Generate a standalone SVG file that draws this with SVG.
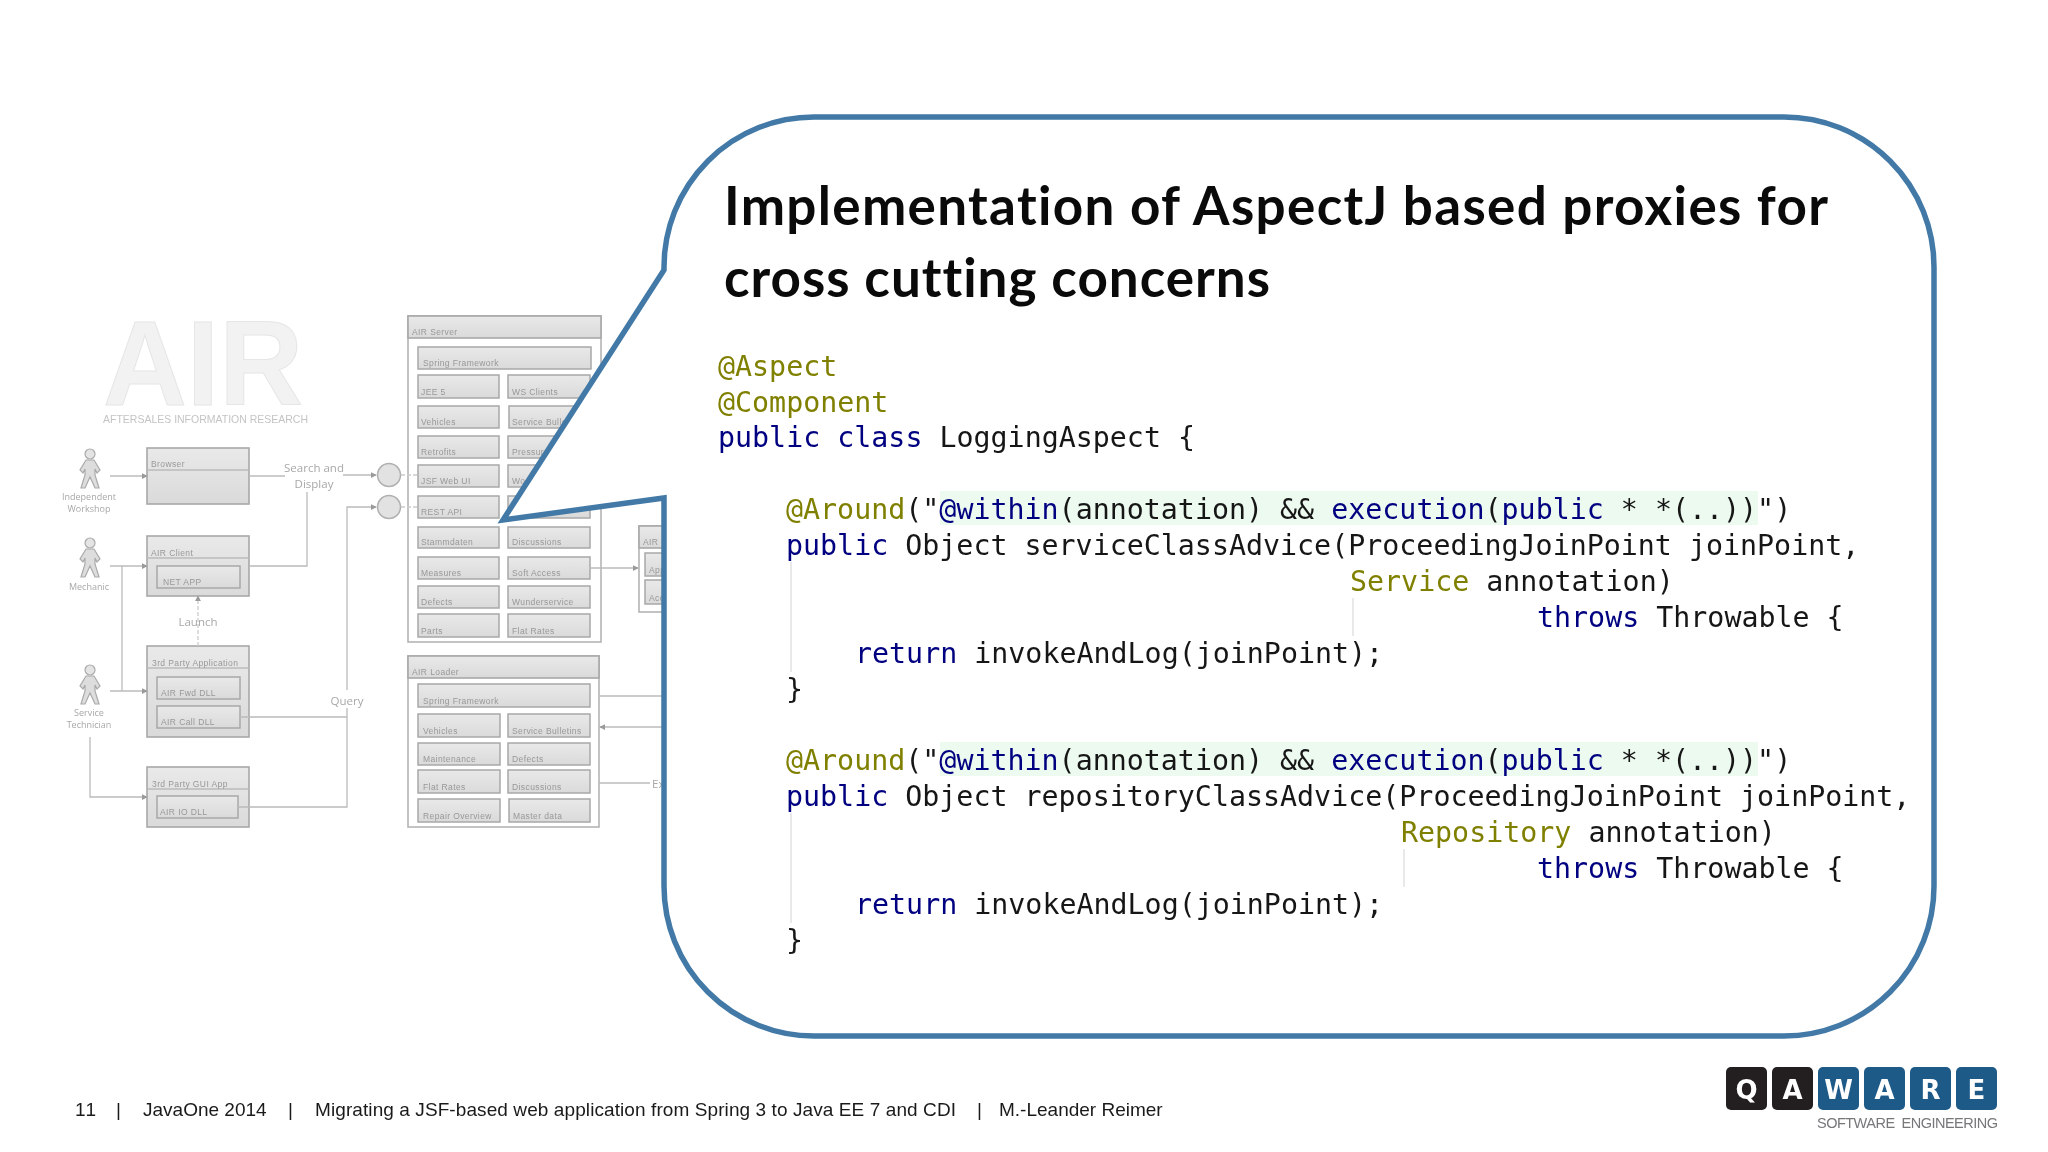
<svg xmlns="http://www.w3.org/2000/svg" width="2048" height="1152" viewBox="0 0 2048 1152">
<style>
.b{fill:url(#g);stroke:#a8a8a8;stroke-width:1.6}
.o{fill:#fff;stroke:#b4b4b4;stroke-width:1.6}
.h{fill:url(#g);stroke:#a8a8a8;stroke-width:1.6}
.c{fill:url(#g);stroke:#a8a8a8;stroke-width:1.5}
.l{font:8.5px "Liberation Sans",sans-serif;fill:#989898;letter-spacing:.4px}
.t{font:11.5px "Open Sans",sans-serif;fill:#a8a8a8;text-anchor:middle}
.a{font:9px "Open Sans",sans-serif;fill:#a8a8a8;text-anchor:middle}
.w{fill:none;stroke:#bbb;stroke-width:1.3}
.d{fill:none;stroke:#ccc;stroke-width:1.3;stroke-dasharray:4 2}
.code{font:28.3px "DejaVu Sans Mono",monospace;fill:#161616}
.k{fill:#000080}.n{fill:#808000}
.guide{stroke:#e2e2e2;stroke-width:1.5}
.hl{fill:#edfaef}
.title{font:bold 53px Lato,"Open Sans",sans-serif;fill:#0a0a0a;font-variant-ligatures:none}
.foot{font:19px "Liberation Sans",Arial,sans-serif;fill:#1a1a1a;font-kerning:none}
.tile{stroke:none}
.ltr{font:bold 26px "DejaVu Sans",sans-serif;fill:#fff;text-anchor:middle}
</style>
<defs>
<linearGradient id="g" x1="0" y1="0" x2="0" y2="1"><stop offset="0" stop-color="#e9e9e9"/><stop offset="1" stop-color="#dadada"/></linearGradient>
<filter id="soft" x="-5%" y="-5%" width="110%" height="110%"><feGaussianBlur stdDeviation="0.55"/></filter>
<marker id="ah" viewBox="0 0 8 8" refX="7" refY="4" markerWidth="6" markerHeight="6" markerUnits="userSpaceOnUse" orient="auto"><path d="M0,0L8,4L0,8Z" fill="#9a9a9a"/></marker>
<g id="person"><circle cx="0" cy="5" r="5" fill="#e4e4e4" stroke="#aaa" stroke-width="1.2"/><path d="M-4,11L4,11L10,21L7,24L5,20L5,26L9,39L5,39L0,28L-5,39L-9,39L-5,26L-5,20L-7,24L-10,21Z" fill="#ddd" stroke="#aaa" stroke-width="1.2"/></g>
</defs>
<rect width="2048" height="1152" fill="#fff"/>
<g id="background-diagram" filter="url(#soft)">
<g id="air-logo">
<text x="103" y="405" textLength="200" lengthAdjust="spacingAndGlyphs" style="font:bold 120px 'Liberation Sans',sans-serif;fill:#f2f2f2;stroke:#e6e6e6;stroke-width:1">AIR</text>
<text x="103" y="423" textLength="205" lengthAdjust="spacingAndGlyphs" style="font:10.5px 'Liberation Sans',sans-serif;fill:#c4c4c4">AFTERSALES INFORMATION RESEARCH</text>
</g>
<g id="actor-workshop"><use href="#person" x="90" y="449"/><text class="a" x="89" y="500">Independent</text><text class="a" x="89" y="512">Workshop</text></g>
<g id="actor-mechanic"><use href="#person" x="90" y="538"/><text class="a" x="89" y="590">Mechanic</text></g>
<g id="actor-technician"><use href="#person" x="90" y="665"/><text class="a" x="89" y="716">Service</text><text class="a" x="89" y="728">Technician</text></g>
<g id="browser"><rect class="b" x="147" y="448" width="102" height="56"/><path class="w" d="M147,470H249"/><text class="l" x="151" y="467">Browser</text></g>
<g id="air-client"><rect class="b" x="147" y="536" width="102" height="60"/><path class="w" d="M147,558H249"/><text class="l" x="151" y="556">AIR Client</text><rect class="c" x="157" y="566" width="83" height="22"/><text class="l" x="163" y="585">NET APP</text></g>
<g id="third-party-app"><rect class="b" x="147" y="646" width="102" height="91"/><path class="w" d="M147,668H249"/><text class="l" x="152" y="666">3rd Party Application</text><rect class="c" x="157" y="677" width="83" height="22"/><text class="l" x="161" y="696">AIR Fwd DLL</text><rect class="c" x="157" y="706" width="83" height="22"/><text class="l" x="161" y="725">AIR Call DLL</text></g>
<g id="third-party-gui"><rect class="b" x="147" y="767" width="102" height="60"/><path class="w" d="M147,789H249"/><text class="l" x="152" y="787">3rd Party GUI App</text><rect class="c" x="157" y="796" width="81" height="22"/><text class="l" x="160" y="815">AIR IO DLL</text></g>
<g id="gate-search"><circle cx="389" cy="475" r="11.5" fill="#e2e2e2" stroke="#b0b0b0" stroke-width="1.5"/></g>
<g id="gate-query"><circle cx="389" cy="507" r="11.5" fill="#e2e2e2" stroke="#b0b0b0" stroke-width="1.5"/></g>
<g id="air-server">
<rect class="o" x="408" y="316" width="193" height="326"/><rect class="h" x="408" y="316" width="193" height="22"/><text class="l" x="412" y="335">AIR Server</text>
<rect class="c" x="418" y="347" width="173" height="22"/><text class="l" x="423" y="366">Spring Framework</text>
<rect class="c" x="418" y="375" width="81" height="23"/><text class="l" x="421" y="395">JEE 5</text>
<rect class="c" x="508" y="375" width="82" height="23"/><text class="l" x="512" y="395">WS Clients</text>
<rect class="c" x="418" y="406" width="81" height="22"/><text class="l" x="421" y="425">Vehicles</text>
<rect class="c" x="509" y="406" width="81" height="22"/><text class="l" x="512" y="425">Service Bulletins</text>
<rect class="c" x="418" y="436" width="81" height="22"/><text class="l" x="421" y="455">Retrofits</text>
<rect class="c" x="508" y="436" width="82" height="22"/><text class="l" x="512" y="455">Pressure</text>
<rect class="c" x="418" y="465" width="81" height="22"/><text class="l" x="421" y="484">JSF Web UI</text>
<rect class="c" x="508" y="465" width="82" height="22"/><text class="l" x="512" y="484">Wo</text>
<rect class="c" x="418" y="496" width="81" height="22"/><text class="l" x="421" y="515">REST API</text>
<rect class="c" x="508" y="496" width="82" height="22"/>
<rect class="c" x="418" y="527" width="81" height="21"/><text class="l" x="421" y="545">Stammdaten</text>
<rect class="c" x="508" y="527" width="82" height="21"/><text class="l" x="512" y="545">Discussions</text>
<rect class="c" x="418" y="557" width="81" height="22"/><text class="l" x="421" y="576">Measures</text>
<rect class="c" x="508" y="557" width="82" height="22"/><text class="l" x="512" y="576">Soft Access</text>
<rect class="c" x="418" y="586" width="81" height="22"/><text class="l" x="421" y="605">Defects</text>
<rect class="c" x="508" y="586" width="82" height="22"/><text class="l" x="512" y="605">Wunderservice</text>
<rect class="c" x="418" y="614" width="81" height="23"/><text class="l" x="421" y="634">Parts</text>
<rect class="c" x="508" y="614" width="82" height="23"/><text class="l" x="512" y="634">Flat Rates</text>
</g>
<g id="air-loader">
<rect class="o" x="408" y="656" width="191" height="171"/><rect class="h" x="408" y="656" width="191" height="22"/><text class="l" x="412" y="675">AIR Loader</text>
<rect class="c" x="418" y="684" width="172" height="23"/><text class="l" x="423" y="704">Spring Framework</text>
<rect class="c" x="418" y="714" width="82" height="23"/><text class="l" x="423" y="734">Vehicles</text>
<rect class="c" x="508" y="714" width="82" height="23"/><text class="l" x="512" y="734">Service Bulletins</text>
<rect class="c" x="418" y="743" width="82" height="22"/><text class="l" x="423" y="762">Maintenance</text>
<rect class="c" x="508" y="743" width="82" height="22"/><text class="l" x="512" y="762">Defects</text>
<rect class="c" x="418" y="770" width="82" height="23"/><text class="l" x="423" y="790">Flat Rates</text>
<rect class="c" x="508" y="770" width="82" height="23"/><text class="l" x="512" y="790">Discussions</text>
<rect class="c" x="418" y="799" width="82" height="23"/><text class="l" x="423" y="819">Repair Overview</text>
<rect class="c" x="509" y="799" width="81" height="23"/><text class="l" x="513" y="819">Master data</text>
</g>
<g id="air-side">
<rect class="o" x="639" y="526" width="60" height="86"/><rect class="h" x="639" y="526" width="60" height="22"/><text class="l" x="643" y="545">AIR S</text>
<rect class="c" x="645" y="553" width="50" height="23"/><text class="l" x="649" y="573">App</text>
<rect class="c" x="645" y="580" width="50" height="24"/><text class="l" x="649" y="601">Acc</text>
</g>
<g id="connectors">
<path class="w" d="M110,476H147" marker-end="url(#ah)"/>
<path class="w" d="M110,566H147" marker-end="url(#ah)"/>
<path class="w" d="M122,566V691"/>
<path class="w" d="M110,691H147" marker-end="url(#ah)"/>
<path class="w" d="M90,737V797H147" marker-end="url(#ah)"/>
<path class="d" d="M198,646V596" marker-end="url(#ah)"/>
<path class="w" d="M249,476H285"/>
<path class="w" d="M249,566H307V492"/>
<path class="w" d="M343,475H376" marker-end="url(#ah)"/>
<path class="w" d="M347,690V507H376" marker-end="url(#ah)"/>
<path class="w" d="M240,717H347M238,807H347V708"/>
<path class="d" d="M401,475H418M401,507H418"/>
<path class="w" d="M590,568H638" marker-end="url(#ah)"/>
<path class="w" d="M599,696H664"/>
<path class="w" d="M664,727H600" marker-end="url(#ah)"/>
<path class="w" d="M599,783H650"/>
<text class="t" x="314" y="472">Search and</text><text class="t" x="314" y="488">Display</text>
<text class="t" x="198" y="626">Launch</text>
<text class="t" x="347" y="705">Query</text>
<text class="t" x="652" y="788" style="text-anchor:start">Ex</text>
</g>
</g>
<g id="callout">
<path d="M664,270V267A150,150 0 0 1 814,117H1784A150,150 0 0 1 1934,267V886A150,150 0 0 1 1784,1036H814A150,150 0 0 1 664,886V498L503,520Z" fill="#fff" stroke="#4279a6" stroke-width="5.5"/>
<text class="title" x="724" y="225" textLength="1104">Implementation of AspectJ based proxies for</text>
<text class="title" x="724" y="297" textLength="546">cross cutting concerns</text>
</g>
<g id="code">
<rect class="hl" x="940" y="491" width="818" height="34"/>
<rect class="hl" x="940" y="742" width="818" height="34"/>
<path class="guide" d="M791,562V672M1353,598V636M791,813V923M1404,849V887"/>
<text class="code n" x="718" y="376">@Aspect</text>
<text class="code n" x="718" y="412">@Component</text>
<text class="code" x="718" y="447"><tspan class="k">public class</tspan> LoggingAspect {</text>
<text class="code" x="786" y="519"><tspan class="n">@Around</tspan>("<tspan class="k">@within</tspan>(annotation) &amp;&amp; <tspan class="k">execution</tspan>(<tspan class="k">public</tspan> * *(..))")</text>
<text class="code" x="786" y="555"><tspan class="k">public</tspan> Object serviceClassAdvice(ProceedingJoinPoint joinPoint,</text>
<text class="code" x="1350" y="591"><tspan class="n">Service</tspan> annotation)</text>
<text class="code" x="1537" y="627"><tspan class="k">throws</tspan> Throwable {</text>
<text class="code" x="855" y="662.5"><tspan class="k">return</tspan> invokeAndLog(joinPoint);</text>
<text class="code" x="786" y="698.5">}</text>
<text class="code" x="786" y="769.5"><tspan class="n">@Around</tspan>("<tspan class="k">@within</tspan>(annotation) &amp;&amp; <tspan class="k">execution</tspan>(<tspan class="k">public</tspan> * *(..))")</text>
<text class="code" x="786" y="805.5"><tspan class="k">public</tspan> Object repositoryClassAdvice(ProceedingJoinPoint joinPoint,</text>
<text class="code" x="1401" y="841.5"><tspan class="n">Repository</tspan> annotation)</text>
<text class="code" x="1537" y="877.5"><tspan class="k">throws</tspan> Throwable {</text>
<text class="code" x="855" y="913.5"><tspan class="k">return</tspan> invokeAndLog(joinPoint);</text>
<text class="code" x="786" y="949.5">}</text>
</g>
<g id="footer">
<text class="foot" x="75" y="1116">11</text>
<text class="foot" x="116" y="1116">|</text>
<text class="foot" x="143" y="1116">JavaOne 2014</text>
<text class="foot" x="288" y="1116">|</text>
<text class="foot" x="315" y="1116" textLength="641">Migrating a JSF-based web application from Spring 3 to Java EE 7 and CDI</text>
<text class="foot" x="977" y="1116">|</text>
<text class="foot" x="999" y="1116">M.-Leander Reimer</text>
</g>
<g id="logo">
<rect class="tile" x="1726" y="1067" width="41" height="43" rx="5" fill="#231f20"/>
<rect class="tile" x="1772" y="1067" width="41" height="43" rx="5" fill="#231f20"/>
<rect class="tile" x="1818" y="1067" width="41" height="43" rx="5" fill="#1d5a88"/>
<rect class="tile" x="1864" y="1067" width="41" height="43" rx="5" fill="#1d5a88"/>
<rect class="tile" x="1910" y="1067" width="41" height="43" rx="5" fill="#1d5a88"/>
<rect class="tile" x="1956" y="1067" width="41" height="43" rx="5" fill="#1d5a88"/>
<text class="ltr" x="1746.5" y="1099">Q</text>
<text class="ltr" x="1792.5" y="1099">A</text>
<text class="ltr" x="1838.5" y="1099">W</text>
<text class="ltr" x="1884.5" y="1099">A</text>
<text class="ltr" x="1930.5" y="1099">R</text>
<text class="ltr" x="1976.5" y="1099">E</text>
<text x="1817" y="1128" textLength="181" style="font:14.5px 'Liberation Sans',sans-serif;fill:#77777a;white-space:pre">SOFTWARE  ENGINEERING</text>
</g>
</svg>
